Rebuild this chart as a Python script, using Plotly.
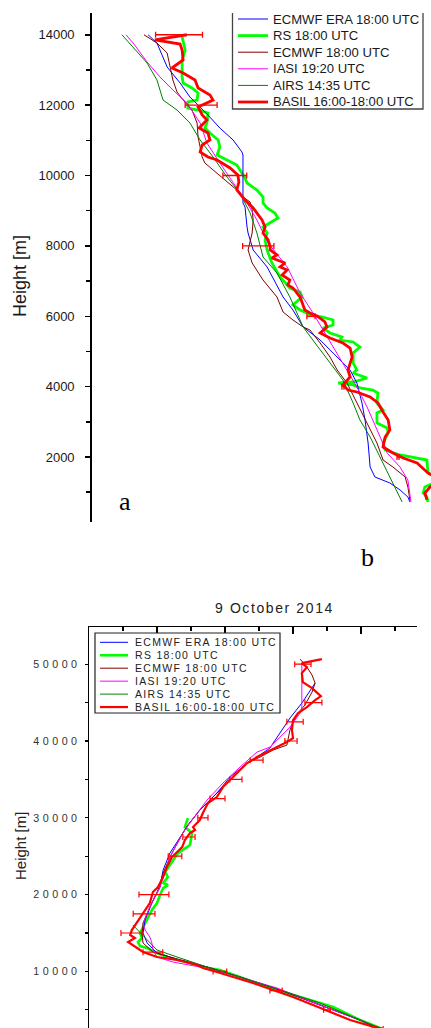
import plotly.graph_objects as go

W, H = 431, 1028

NAMES = ["ECMWF ERA 18:00 UTC", "RS 18:00 UTC", "ECMWF 18:00 UTC",
         "IASI 19:20 UTC", "AIRS 14:35 UTC", "BASIL 16:00-18:00 UTC"]
COLORS = ["#0000ff", "#00ff00", "#800000", "#ff00ff", "#008000", "#ff0000"]
WIDTH_A = [1.0, 2.8, 1.0, 1.0, 1.0, 2.8]
WIDTH_B = [1.0, 2.6, 1.0, 1.0, 1.0, 2.2]

# ---------------- panel a : 0-14 km (height m, temperature K) ----------------
A_ERA_H = [14000, 13765, 13083, 12629, 12231, 11946, 11719, 11350, 11009, 10668, 10583, 9218, 9105, 8536,
           8366, 7883, 7400, 6547, 6178, 5695, 5325, 4956, 4473, 4103, 3535, 3052, 2398, 1716, 1432, 1262,
           1063, 864, 722]
A_ERA_T = [211.5, 214.1, 217.1, 220.9, 223.8, 226.8, 229.1, 232.6, 236.5, 239.1, 239.4, 239.4, 240.0, 240.6,
           240.9, 242.4, 246.5, 251.2, 254.1, 257.1, 262.1, 265.9, 270.9, 272.9, 274.4, 275.3, 276.2, 276.8,
           278.2, 282.6, 285.6, 287.9, 288.5]

A_RS_H = [13940, 13566, 13282, 12799, 12629, 12486, 12344, 12145, 12089, 11918, 11861, 11776, 11492, 11350,
          11208, 11009, 10810, 10583, 10440, 10298, 10156, 9929, 9787, 9673, 9588, 9389, 9218, 9076, 8934,
          8792, 8650, 8536, 8366, 8167, 7883, 7513, 7116, 6945, 6803, 6689, 6547, 6320, 6178, 6093, 6007,
          5979, 5894, 5752, 5666, 5524, 5411, 5325, 5269, 5126, 4956, 4672, 4473, 4388, 4245, 4132, 4103,
          4047, 3961, 3904, 3819, 3535, 3336, 3251, 2967, 2825, 2683, 2398, 2199, 2057, 1915, 1546, 1347,
          1148, 978, 864, 722]
A_RS_T = [221.5, 222.4, 221.5, 221.5, 221.8, 224.4, 226.2, 225.9, 223.2, 223.2, 226.2, 229.1, 228.8, 228.2,
          229.7, 232.1, 232.6, 231.8, 234.7, 237.6, 238.5, 240.0, 240.6, 242.1, 243.5, 245.3, 245.3, 246.5,
          248.8, 249.7, 247.4, 245.3, 246.5, 245.9, 246.5, 247.9, 250.3, 251.8, 253.2, 256.2, 256.8, 254.1,
          256.2, 258.2, 260.0, 262.6, 265.9, 265.9, 262.9, 265.0, 268.5, 267.9, 271.8, 273.8, 271.8, 271.8,
          272.9, 271.8, 275.9, 271.8, 267.4, 271.8, 273.8, 277.6, 279.1, 278.8, 280.6, 278.8, 278.8, 281.8,
          282.1, 280.6, 281.2, 285.6, 293.5, 293.8, 297.4, 292.9, 292.4, 293.5, 293.8]

A_ECM_H = [14000, 13765, 13481, 13083, 12714, 12373, 12145, 11861, 11492, 11094, 10810, 10526, 10355, 10071,
           9815, 9588, 9389, 9247, 9020, 8735, 8366, 8082, 7883, 7513, 7030, 6547, 6121, 5894, 5695, 5610,
           5240, 4842, 4473, 4103, 3535, 2967, 2398, 1915, 1716, 1432, 1148, 779]
A_ECM_T = [210.3, 214.1, 217.1, 217.9, 218.8, 220.0, 221.8, 224.4, 225.9, 226.2, 226.8, 227.4, 228.2, 231.8,
           234.7, 237.6, 239.4, 241.5, 242.1, 242.4, 242.1, 241.5, 240.9, 242.1, 245.3, 249.4, 251.2, 254.1,
           257.1, 259.1, 262.1, 265.0, 267.1, 270.0, 272.9, 275.9, 278.8, 280.6, 283.5, 287.1, 287.9, 288.5]

A_IASI_H = [14000, 13765, 13225, 12799, 12430, 12060, 11492, 10923, 10355, 9787, 9218, 8735, 8366, 8082,
            7400, 6661, 6093, 5524, 4956, 4473, 3990, 3421, 2768, 2114, 1716, 1347, 722]
A_IASI_T = [205.0, 207.1, 211.2, 215.0, 218.8, 222.9, 226.8, 228.8, 232.6, 236.5, 240.6, 243.5, 245.3, 246.8,
            252.4, 256.2, 260.0, 263.5, 267.1, 270.0, 272.9, 275.9, 278.8, 281.8, 285.6, 287.9, 288.8]

A_AIRS_H = [14000, 13652, 13197, 12714, 12145, 11861, 11492, 11009, 10526, 9957, 9503, 8934, 8366, 7684,
            7229, 6547, 5695, 5240, 4757, 4189, 3535, 3052, 2569, 2001, 1432, 722]
A_AIRS_T = [203.8, 207.1, 211.2, 214.1, 215.9, 220.0, 223.8, 226.8, 230.6, 234.7, 238.5, 241.5, 243.5, 245.3,
            249.4, 253.2, 257.1, 260.6, 264.4, 268.8, 271.8, 273.8, 276.8, 279.7, 282.6, 286.2]

A_BASIL_H = [14000, 13851, 13737, 13566, 13282, 13055, 12913, 12714, 12486, 12288, 12145, 12060, 11946, 11719,
             11577, 11350, 11208, 11009, 10867, 10668, 10526, 10440, 10213, 10014, 9815, 9588, 9304, 9076,
             8735, 8536, 8366, 8167, 7968, 7883, 7741, 7655, 7513, 7400, 7315, 7173, 7030, 6888, 6803, 6547,
             6377, 6178, 6093, 6007, 5837, 5695, 5524, 5382, 5240, 5098, 4842, 4473, 4274, 4189, 4047, 3904,
             3848, 3706, 3535, 3279, 3052, 2768, 2569, 2285, 2114, 1972, 1830, 1546, 1347, 1148, 978, 779]
A_BASIL_T = [222.9, 213.5, 220.9, 221.5, 221.8, 218.5, 221.8, 225.3, 226.2, 229.7, 230.6, 228.8, 226.2, 227.4,
             228.8, 226.5, 229.1, 229.7, 227.4, 226.8, 229.1, 231.8, 235.6, 237.9, 238.2, 237.6, 240.0, 242.4,
             245.0, 245.9, 245.3, 246.8, 247.4, 247.4, 249.4, 247.9, 251.8, 250.3, 252.4, 250.9, 253.2, 252.6,
             254.1, 256.2, 256.8, 257.6, 259.1, 261.2, 263.5, 264.1, 262.1, 265.0, 268.8, 270.9, 271.5, 270.3,
             270.9, 270.0, 268.8, 270.3, 272.9, 276.8, 279.1, 280.6, 282.1, 282.6, 281.2, 280.6, 283.5, 286.5,
             290.6, 293.8, 297.4, 294.4, 292.9, 293.5]

A_ERR_H = [14000, 12000, 10000, 8000, 6000, 4000, 2000]
A_ERR_T = [220.6, 227.1, 237.0, 243.9, 259.4, 268.8, 285.0]
A_ERR = [6.9, 4.7, 3.5, 4.6, 1.2, 0.3, 0.3]

A_YTICKS = [2000, 4000, 6000, 8000, 10000, 12000, 14000]

# ---------------- panel b : 9 October 2014, 0-55 km ----------------
B_ERA_H = [47538, 44935, 42982, 41030, 39077, 37906, 37124, 35302, 33219, 31006, 29054, 28013, 25409, 23196,
           20983, 18901, 16688, 14996, 13694, 12392, 11481, 10570, 9268, 7576, 5623, 3671, 2629, 2240]
B_ERA_T = [266.5, 262.6, 259.1, 256.2, 253.2, 249.4, 246.5, 241.5, 237.6, 232.6, 229.1, 227.6, 223.8, 221.8,
           220.9, 218.5, 216.5, 215.9, 217.1, 220.0, 226.8, 234.7, 244.4, 256.2, 267.9, 279.7, 284.7, 287.6]

B_RS_H = [29965, 28794, 28013, 26450, 25409, 23587, 22936, 22285, 21504, 21244, 20853, 19942, 18901, 17989,
          16688, 15777, 14996, 14345, 13824, 13303, 13043, 12392, 11741, 11221, 10570, 10179, 9268, 7966,
          6665, 5363, 3671, 2629, 2240]
B_RS_T = [229.1, 228.2, 230.3, 229.7, 226.2, 223.2, 222.4, 223.2, 221.8, 223.2, 221.8, 220.9, 220.0, 218.5,
          217.1, 215.9, 215.0, 215.6, 214.4, 215.0, 217.1, 220.0, 223.8, 228.8, 233.5, 238.5, 244.4, 252.4,
          262.1, 271.8, 279.7, 285.6, 288.5]

B_ECM_H = [50662, 49621, 48579, 47538, 46367, 44674, 43633, 42461, 41420, 39468, 38817, 37906, 37124, 35302,
           33219, 31006, 29054, 28013, 25409, 22806, 20593, 18380, 16297, 14735, 13694, 12522, 11481, 10570,
           9268, 7576, 5623, 3671, 2629, 2240]
B_ECM_T = [262.1, 264.1, 265.6, 266.5, 265.6, 263.5, 261.5, 260.0, 259.1, 258.2, 254.1, 250.3, 246.5, 242.4,
           237.6, 232.6, 229.1, 227.6, 224.4, 221.8, 220.3, 217.9, 215.9, 215.6, 215.9, 218.8, 226.8, 234.7,
           244.4, 256.2, 267.9, 279.7, 284.7, 287.6]

B_IASI_H = [50141, 44414, 43633, 41811, 40509, 39207, 38556, 36604, 34521, 32308, 29705, 28013, 24889, 20983,
            18380, 16297, 15386, 14475, 13694, 12783, 11872, 11221, 10570, 9528, 7836, 5623, 3671, 2629, 2240]
B_IASI_T = [262.6, 262.6, 262.1, 259.1, 256.2, 253.2, 249.4, 244.4, 239.4, 234.7, 230.3, 227.6, 223.8, 220.9,
            217.9, 215.9, 216.5, 217.9, 218.5, 218.8, 220.0, 224.7, 232.6, 242.4, 255.3, 267.9, 279.7, 283.5,
            286.5]

B_AIRS_H = [16037, 12783, 11741, 10570, 9268, 7576, 5884, 3671, 2629, 2240]
B_AIRS_T = [212.9, 220.0, 226.8, 234.7, 244.4, 256.2, 267.9, 279.7, 285.6, 288.5]

B_BASIL_H = [50662, 50141, 49621, 48840, 47668, 46887, 45846, 45325, 44414, 43633, 42722, 41420, 40379, 39858,
             39207, 38556, 37906, 37124, 36213, 34912, 34000, 32699, 31918, 30616, 29705, 28794, 28403, 28013,
             27101, 26190, 24889, 23587, 22285, 20983, 20333, 18901, 17599, 16688, 15386, 14735, 14345, 13824,
             13434, 12522, 11872, 11481, 10830, 10440, 9919, 9268, 8487, 7576, 6665, 5623, 4712, 3671, 3020,
             2629, 2240]
B_BASIL_T = [268.5, 262.6, 264.1, 262.6, 262.9, 265.6, 268.2, 266.5, 264.1, 261.5, 260.0, 259.7, 260.0, 258.2,
             255.3, 252.4, 249.4, 246.5, 244.4, 241.5, 239.4, 237.6, 235.0, 233.5, 232.6, 230.6, 231.2, 229.7,
             228.2, 227.4, 224.4, 222.9, 221.8, 220.3, 218.8, 217.9, 215.9, 214.4, 212.6, 212.1, 213.5, 211.5,
             212.9, 215.9, 220.0, 225.9, 231.8, 233.5, 237.6, 242.4, 248.2, 254.1, 260.0, 265.9, 270.9, 276.8,
             281.8, 285.6, 288.5]

B_ERR_H = [50000, 45000, 42500, 40000, 37500, 35000, 32500, 30000, 27500, 25000, 20000, 17500, 15000, 12500,
           10000, 7500, 5000, 2500]
B_ERR_T = [262.9, 266.0, 260.6, 259.4, 249.3, 243.2, 237.8, 233.5, 229.4, 225.3, 219.1, 216.2, 212.5, 218.8,
           238.5, 255.0, 270.0, 285.6]
B_ERR = [2.4, 2.5, 2.4, 1.8, 1.9, 1.8, 2.2, 1.5, 1.8, 2.0, 4.4, 3.2, 3.1, 2.9, 2.0, 1.8, 1.0, 0.9]

B_YTICKS = [10000, 20000, 30000, 40000, 50000]
B_TITLE = "9 October 2014"


def fx(p):
    return p / W


def fy(p):
    return 1 - p / H


fig = go.Figure()

A_SERIES = [(A_ERA_T, A_ERA_H), (A_RS_T, A_RS_H), (A_ECM_T, A_ECM_H),
            (A_IASI_T, A_IASI_H), (A_AIRS_T, A_AIRS_H), (A_BASIL_T, A_BASIL_H)]
B_SERIES = [(B_ERA_T, B_ERA_H), (B_RS_T, B_RS_H), (B_ECM_T, B_ECM_H),
            (B_IASI_T, B_IASI_H), (B_AIRS_T, B_AIRS_H), (B_BASIL_T, B_BASIL_H)]
ORDER = [1, 0, 2, 3, 4, 5]

for i in ORDER:
    t, h = A_SERIES[i]
    fig.add_trace(go.Scatter(x=t, y=h, mode="lines", name=NAMES[i], xaxis="x", yaxis="y",
                             line=dict(color=COLORS[i], width=WIDTH_A[i])))
fig.add_trace(go.Scatter(x=A_ERR_T, y=A_ERR_H, mode="markers", xaxis="x", yaxis="y",
                         marker=dict(size=0, color="rgba(0,0,0,0)"),
                         error_x=dict(type="data", array=A_ERR, color="#ff0000", thickness=1.3, width=3)))

for i in ORDER:
    t, h = B_SERIES[i]
    fig.add_trace(go.Scatter(x=t, y=h, mode="lines", name=NAMES[i], xaxis="x2", yaxis="y2",
                             line=dict(color=COLORS[i], width=WIDTH_B[i])))
fig.add_trace(go.Scatter(x=B_ERR_T, y=B_ERR_H, mode="markers", xaxis="x2", yaxis="y2",
                         marker=dict(size=0, color="rgba(0,0,0,0)"),
                         error_x=dict(type="data", array=B_ERR, color="#ff0000", thickness=1.2, width=3)))

SANS = "Liberation Sans, Arial, sans-serif"
SERIF = "Liberation Serif, Times New Roman, serif"


def spaced(text, ls):
    return f'<span style="letter-spacing:{ls}px">{text}</span>'


shapes = []
annotations = []

# legend panel a
shapes.append(dict(type="rect", xref="paper", yref="paper", x0=fx(232.5), x1=fx(423), y0=fy(109), y1=fy(13),
                   fillcolor="white", line=dict(width=0), layer="above"))
shapes.append(dict(type="path", xref="paper", yref="paper", layer="above",
                   path=f"M {fx(232.5)},{fy(13)} L {fx(232.5)},{fy(109)} L {fx(423)},{fy(109)} L {fx(423)},{fy(13)}",
                   line=dict(color="#444444", width=1.3)))
for k in range(6):
    yy = 19 + k * 16.6
    shapes.append(dict(type="line", xref="paper", yref="paper", layer="above",
                       x0=fx(238), x1=fx(268), y0=fy(yy), y1=fy(yy),
                       line=dict(color=COLORS[k], width=WIDTH_A[k])))
    annotations.append(dict(text=NAMES[k], xref="paper", yref="paper", x=fx(271), y=fy(yy),
                            xanchor="left", yanchor="middle", showarrow=False,
                            font=dict(family=SANS, size=13.1, color="#1a1a1a")))

# legend panel b
shapes.append(dict(type="rect", xref="paper", yref="paper", x0=fx(95), x1=fx(280), y0=fy(713), y1=fy(633),
                   fillcolor="white", line=dict(color="#222222", width=1.2), layer="above"))
for k in range(6):
    yy = 642.3 + k * 12.95
    shapes.append(dict(type="line", xref="paper", yref="paper", layer="above",
                       x0=fx(100), x1=fx(128), y0=fy(yy), y1=fy(yy),
                       line=dict(color=COLORS[k], width=WIDTH_B[k])))
    annotations.append(dict(text=spaced(NAMES[k], 1.3), xref="paper", yref="paper", x=fx(133), y=fy(yy),
                            xanchor="left", yanchor="middle", showarrow=False,
                            font=dict(family=SANS, size=10.5, color="#222222")))

# axis titles, labels, panel letters
annotations += [
    dict(text="Height [m]", xref="paper", yref="paper", x=fx(20), y=fy(276), textangle=-90,
         xanchor="center", yanchor="middle", showarrow=False, font=dict(family=SANS, size=18, color="#1a1a1a")),
    dict(text="Height [m]", xref="paper", yref="paper", x=fx(20), y=fy(846), textangle=-90,
         xanchor="center", yanchor="middle", showarrow=False, font=dict(family=SANS, size=15, color="#222222")),
    dict(text=spaced(B_TITLE, 1.6), xref="paper", yref="paper", x=fx(274), y=fy(608),
         xanchor="center", yanchor="middle", showarrow=False, font=dict(family=SANS, size=14, color="#222222")),
    dict(text="a", xref="paper", yref="paper", x=fx(125), y=fy(501), xanchor="center", yanchor="middle",
         showarrow=False, font=dict(family=SERIF, size=26, color="black")),
    dict(text="b", xref="paper", yref="paper", x=fx(367), y=fy(557), xanchor="center", yanchor="middle",
         showarrow=False, font=dict(family=SERIF, size=26, color="black")),
]

fig.update_layout(
    width=W, height=H, margin=dict(l=0, r=0, t=0, b=0),
    paper_bgcolor="white", plot_bgcolor="rgba(0,0,0,0)", showlegend=False,
    shapes=shapes, annotations=annotations,
    xaxis=dict(domain=[fx(92), 1], range=[195, 294.7], visible=False, anchor="y"),
    yaxis=dict(domain=[fy(522), fy(13)], range=[153, 14618], anchor="x",
               showline=True, linecolor="black", linewidth=1.8, showgrid=False, zeroline=False,
               ticks="outside", ticklen=5, tickwidth=1.5, tickcolor="black",
               tickvals=A_YTICKS, ticktext=[str(v) for v in A_YTICKS], ticklabelstandoff=8,
               tickfont=dict(family=SANS, size=13, color="#1a1a1a"),
               minor=dict(dtick=1000, tick0=0, ticks="outside", ticklen=4, tickwidth=1.5, tickcolor="black")),
    xaxis2=dict(domain=[fx(89), fx(417)], range=[200, 296.47], anchor="y2", side="top",
                showline=True, linecolor="black", linewidth=1.3, showgrid=False, zeroline=False,
                ticks="inside", ticklen=7, tickwidth=1.2, tickcolor="black", tickmode="linear",
                tick0=200, dtick=20, showticklabels=False,
                minor=dict(dtick=10, tick0=200, ticks="inside", ticklen=3.5, tickwidth=1.2, tickcolor="black")),
    yaxis2=dict(domain=[0, fy(627)], range=[2629, 54844], anchor="x2",
                showline=True, linecolor="black", linewidth=1.3, showgrid=False, zeroline=False,
                ticks="outside", ticklen=3, tickwidth=1.2, tickcolor="black",
                tickvals=B_YTICKS, ticktext=[spaced(v, 3.5) for v in B_YTICKS], ticklabelstandoff=2,
                tickfont=dict(family=SANS, size=10.7, color="#333333"),
                minor=dict(dtick=5000, tick0=0, ticks="outside", ticklen=3, tickwidth=1.2, tickcolor="black")),
)

fig.write_html("out.html", config={"displayModeBar": False, "staticPlot": True},
               post_script="document.body.style.margin='0';document.body.style.overflow='hidden';")
